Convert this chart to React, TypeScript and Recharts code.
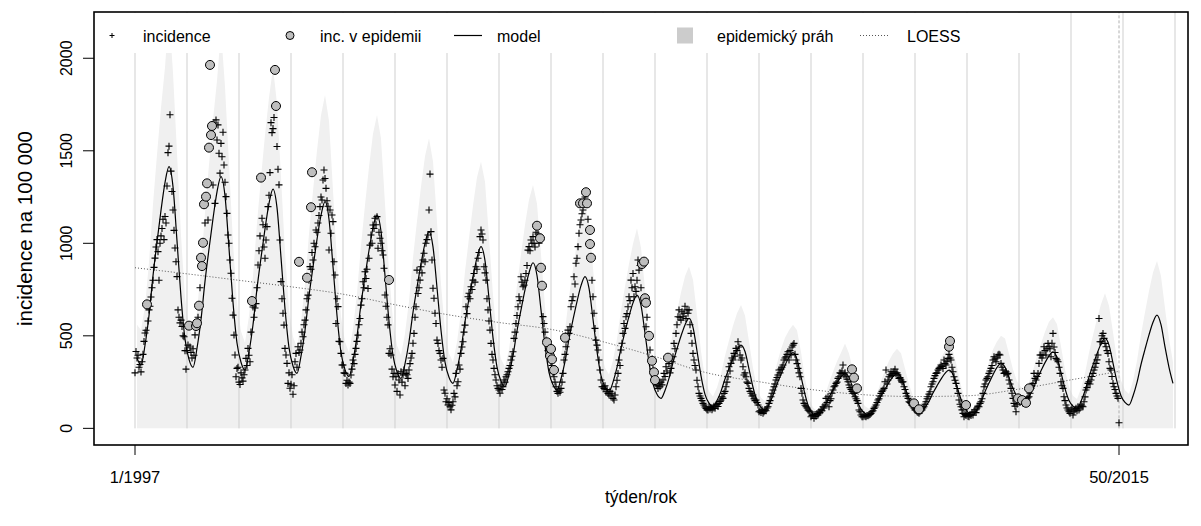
import { ComposedChart, Area, Line, Scatter, XAxis, YAxis, ReferenceLine } from 'recharts';

const FONT = '"Liberation Sans", Arial, Helvetica, sans-serif';

// osa x = pořadí týdne od 1/1997 (52 týdnů na rok)
const yearStarts = [0, 52, 104, 156, 208, 260, 312, 364, 416, 468, 520, 572, 624, 676, 728, 780, 832, 884, 936, 988, 1040];
const xTicks = [0, 984];
const xTickLabels = ['1/1997', '50/2015'];
const yTicks = [0, 500, 1000, 1500, 2000];
const currentWeek = 984;

// týdenní incidence, po sezónách
const inc1997 = [300, 415, 380, 395, 330, 345, 305, 360, 400, 470, 515, 530, 670, 580, 640, 660, 710, 760, 800, 870, 920, 980, 1020, 955, 800, 1000, 1040, 1080, 1130, 1020, 1145, 1110, 1310, 1490, 1525, 1695, 1390, 1280, 1180, 1070, 975, 900, 820, 640, 600, 570, 585, 550, 500, 495, 420, 320];
const inc1998 = [420, 450, 555, 440, 410, 380, 430, 395, 505, 553, 568, 600, 663, 760, 922, 877, 1003, 1211, 1110, 1252, 1324, 1126, 1517, 1964, 1585, 1634, 1315, 1650, 1216, 1667, 1558, 1640, 1487, 1379, 1540, 1468, 1600, 1423, 1330, 1252, 1162, 1045, 1000, 910, 838, 703, 612, 504, 396, 279, 324, 330];
const inc1999 = [250, 237, 300, 273, 255, 290, 315, 378, 340, 432, 395, 360, 520, 688, 656, 600, 650, 674, 760, 883, 960, 1040, 1355, 1135, 1100, 980, 919, 1018, 1090, 1198, 1260, 1382, 1652, 1598, 1620, 1680, 1937, 1742, 1523, 1400, 1316, 1018, 793, 700, 622, 558, 432, 396, 351, 243, 300, 217];
const inc2000 = [238, 290, 184, 230, 360, 405, 330, 441, 410, 423, 460, 520, 495, 560, 585, 640, 700, 720, 800, 874, 860, 950, 910, 1000, 981, 1072, 1060, 1110, 1150, 1198, 1250, 1234, 1342, 1396, 1350, 1297, 1230, 1200, 964, 1180, 1054, 1153, 1117, 900, 829, 567, 700, 658, 470, 468, 405, 342];
const inc2001 = [342, 300, 297, 243, 260, 234, 250, 243, 288, 320, 369, 350, 400, 432, 470, 504, 560, 594, 666, 700, 792, 760, 846, 810, 860, 756, 919, 990, 1045, 1000, 1099, 1080, 1135, 1100, 1144, 973, 1060, 1027, 1000, 960, 937, 865, 721, 660, 600, 559, 405, 430, 396, 320, 279, 297];
const inc2002 = [234, 279, 200, 297, 261, 180, 306, 250, 288, 315, 230, 297, 290, 270, 315, 350, 380, 405, 460, 513, 600, 657, 855, 729, 760, 801, 873, 840, 910, 946, 900, 1000, 1020, 1045, 1180, 1374, 1063, 910, 757, 703, 622, 567, 477, 459, 420, 405, 369, 330, 378, 207, 190, 144];
const inc2003 = [160, 126, 140, 117, 100, 125, 144, 189, 170, 297, 230, 252, 342, 320, 405, 440, 468, 520, 558, 657, 620, 711, 730, 700, 765, 750, 801, 837, 790, 873, 860, 919, 950, 1036, 1072, 1050, 1018, 873, 840, 801, 700, 640, 580, 531, 459, 400, 369, 324, 290, 261, 230, 216];
const inc2004 = [207, 190, 234, 210, 225, 261, 250, 279, 290, 306, 324, 340, 369, 390, 414, 486, 520, 567, 610, 657, 711, 690, 819, 790, 765, 774, 800, 837, 880, 963, 982, 960, 1018, 1000, 1036, 1000, 980, 1060, 1095, 1050, 1000, 1027, 868, 771, 604, 567, 520, 477, 465, 420, 400, 391];
const inc2005 = [360, 340, 300, 279, 250, 225, 200, 189, 207, 195, 216, 250, 297, 369, 400, 441, 480, 531, 513, 549, 657, 690, 711, 819, 780, 892, 919, 982, 1054, 1100, 1126, 1160, 1180, 1230, 1250, 1276, 1216, 1130, 1072, 996, 922, 800, 711, 622, 540, 477, 450, 423, 369, 315, 261, 225];
const inc2006 = [225, 216, 230, 198, 210, 189, 180, 200, 175, 190, 162, 153, 180, 225, 260, 297, 369, 340, 423, 460, 513, 567, 540, 603, 620, 657, 711, 690, 801, 760, 837, 711, 765, 740, 800, 910, 855, 880, 760, 888, 901, 703, 679, 549, 600, 495, 500, 423, 369, 365, 320, 303];
const inc2007 = [261, 243, 230, 216, 240, 225, 250, 235, 261, 297, 280, 333, 310, 382, 350, 300, 324, 360, 387, 459, 430, 513, 560, 603, 640, 600, 585, 630, 603, 622, 660, 594, 640, 622, 640, 560, 513, 460, 405, 369, 340, 315, 260, 225, 189, 175, 162, 150, 135, 126, 115, 108];
const inc2008 = [100, 99, 117, 105, 112, 100, 110, 120, 108, 126, 130, 118, 135, 145, 153, 170, 162, 189, 200, 225, 250, 279, 333, 310, 351, 380, 369, 405, 390, 432, 420, 468, 440, 396, 369, 380, 333, 288, 300, 279, 250, 243, 216, 200, 190, 175, 180, 160, 150, 153, 140, 126];
const inc2009 = [90, 95, 85, 100, 81, 90, 100, 95, 110, 117, 135, 150, 171, 190, 207, 225, 240, 261, 275, 288, 315, 300, 320, 330, 342, 369, 380, 387, 400, 414, 369, 420, 396, 440, 450, 459, 400, 369, 350, 324, 300, 279, 216, 190, 153, 135, 125, 117, 110, 99, 95, 90];
const inc2010 = [63, 70, 72, 54, 75, 65, 80, 72, 90, 85, 100, 95, 117, 110, 126, 162, 140, 171, 117, 150, 160, 190, 207, 225, 230, 243, 250, 270, 279, 300, 297, 310, 342, 288, 300, 279, 265, 252, 234, 220, 210, 200, 190, 189, 171, 160, 150, 135, 99, 90, 72, 63];
const inc2011 = [63, 72, 65, 63, 70, 68, 72, 75, 81, 90, 95, 108, 115, 126, 140, 153, 160, 175, 189, 200, 207, 216, 252, 315, 240, 261, 279, 290, 306, 285, 297, 306, 320, 295, 300, 288, 270, 275, 261, 250, 252, 225, 210, 189, 175, 162, 144, 140, 135, 125, 117, 110];
const inc2012 = [100, 99, 90, 85, 81, 90, 95, 100, 110, 117, 130, 144, 160, 171, 185, 198, 225, 240, 252, 270, 285, 297, 300, 315, 324, 330, 342, 335, 324, 369, 350, 342, 360, 378, 400, 380, 369, 330, 306, 279, 260, 243, 215, 189, 153, 130, 117, 100, 81, 63, 75, 70];
const inc2013 = [80, 65, 63, 75, 70, 85, 72, 90, 100, 85, 110, 120, 117, 135, 144, 160, 189, 225, 240, 261, 270, 279, 297, 310, 324, 340, 369, 387, 375, 360, 380, 396, 400, 396, 351, 330, 315, 297, 300, 306, 290, 297, 261, 240, 216, 190, 162, 135, 120, 90, 130, 153];
const inc2014 = [162, 140, 150, 145, 135, 150, 140, 153, 160, 165, 171, 190, 216, 230, 243, 297, 270, 261, 280, 297, 351, 396, 396, 380, 396, 441, 420, 396, 430, 459, 441, 430, 387, 460, 513, 440, 410, 378, 370, 360, 330, 297, 252, 230, 216, 171, 150, 126, 110, 99, 90, 81];
const inc2015 = [99, 110, 72, 90, 100, 108, 95, 117, 99, 110, 126, 120, 117, 144, 170, 207, 220, 243, 252, 240, 261, 280, 297, 315, 330, 351, 370, 396, 594, 468, 468, 500, 513, 486, 459, 441, 420, 405, 360, 324, 315, 280, 243, 225, 210, 189, 175, 162, 30];

const incidenceByYear = [inc1997, inc1998, inc1999, inc2000, inc2001, inc2002, inc2003, inc2004, inc2005, inc2006, inc2007, inc2008, inc2009, inc2010, inc2011, inc2012, inc2013, inc2014, inc2015];

// týdny v epidemii [týden, incidence]
const epidemic = [
  [12, 670], [54, 555], [61, 553], [62, 568], [64, 663], [66, 922], [67, 877], [68, 1003], [69, 1211], [71, 1252], [72, 1324], [74, 1517], [75, 1964], [76, 1585], [77, 1634],
  [117, 688], [126, 1355], [140, 1937], [141, 1742],
  [164, 900], [172, 814], [176, 1195], [177, 1384],
  [254, 802],
  [402, 1095], [405, 1027], [406, 868], [407, 771], [412, 465], [415, 391], [416, 429], [417, 373], [419, 315], [430, 490],
  [445, 1216], [448, 1216], [451, 1276], [452, 1216], [455, 1072], [455, 996], [456, 922],
  [507, 888], [509, 901], [510, 703], [511, 679], [514, 500], [517, 365], [519, 303], [520, 261], [533, 382],
  [717, 319], [719, 274], [722, 216],
  [779, 135], [784, 103],
  [814, 441], [815, 472], [831, 126],
  [883, 162], [887, 153], [891, 138], [894, 216],
];

// model a epidemický práh: hodnoty v týdnech sezóny
const seasonWeeks = [2, 6, 10, 14, 18, 22, 26, 30, 34, 38, 42, 46, 50];
const modelByYear = [
  [380, 342, 449, 610, 824, 1007, 1178, 1328, 1414, 1306, 1013, 709, 482],
  [373, 330, 433, 588, 794, 969, 1133, 1278, 1360, 1256, 973, 681, 461],
  [357, 315, 413, 560, 755, 921, 1078, 1215, 1293, 1193, 924, 646, 436],
  [337, 297, 390, 529, 715, 872, 1021, 1151, 1225, 1130, 875, 610, 411],
  [317, 279, 366, 498, 672, 821, 961, 1083, 1153, 1065, 826, 579, 394],
  [305, 270, 349, 468, 627, 762, 889, 1000, 1063, 981, 760, 530, 358],
  [276, 243, 317, 428, 576, 701, 819, 923, 982, 906, 702, 490, 331],
  [255, 225, 292, 393, 527, 640, 748, 841, 895, 826, 640, 448, 303],
  [235, 207, 268, 360, 483, 587, 685, 771, 820, 758, 590, 416, 285],
  [223, 198, 250, 329, 433, 522, 605, 678, 720, 664, 514, 357, 240],
  [184, 162, 205, 270, 356, 430, 499, 559, 594, 546, 418, 284, 184],
  [136, 117, 150, 200, 267, 323, 377, 423, 450, 415, 320, 222, 148],
  [113, 99, 130, 177, 239, 291, 341, 384, 409, 374, 281, 184, 111],
  [77, 63, 86, 122, 168, 208, 246, 278, 297, 275, 214, 151, 104],
  [81, 72, 95, 128, 173, 212, 248, 279, 297, 276, 220, 162, 119],
  [98, 90, 113, 146, 191, 230, 266, 297, 315, 291, 225, 157, 106],
  [82, 72, 100, 142, 198, 245, 290, 329, 351, 330, 274, 216, 173],
  [152, 144, 171, 212, 266, 311, 355, 392, 414, 383, 301, 215, 151],
  [120, 108, 146, 203, 278, 342, 403, 456, 486, 450, 353, 252, 176],
  [140, 126, 175, 248, 345, 427, 505, 573, 612, 560, 440, 330, 243],
];
const thresholdByYear = [
  [560, 531, 660, 897, 1211, 1480, 1732, 1952, 2250, 1920, 1489, 1042, 709],
  [548, 485, 637, 864, 1167, 1424, 1666, 1879, 2150, 1846, 1430, 1001, 678],
  [525, 463, 607, 823, 1110, 1354, 1585, 1786, 1950, 1754, 1358, 950, 641],
  [495, 437, 573, 778, 1051, 1282, 1501, 1692, 1801, 1661, 1286, 897, 604],
  [466, 410, 538, 732, 988, 1207, 1413, 1592, 1694, 1566, 1214, 851, 579],
  [448, 397, 513, 688, 922, 1120, 1307, 1470, 1568, 1442, 1117, 779, 526],
  [406, 357, 466, 629, 847, 1030, 1204, 1357, 1441, 1332, 1032, 720, 487],
  [375, 331, 429, 578, 775, 941, 1100, 1236, 1315, 1214, 941, 659, 445],
  [345, 304, 394, 529, 710, 863, 1007, 1133, 1200, 1114, 867, 612, 419],
  [328, 291, 368, 484, 637, 767, 889, 997, 1081, 976, 756, 525, 353],
  [270, 238, 301, 397, 523, 632, 734, 822, 874, 803, 614, 417, 270],
  [200, 172, 221, 294, 392, 475, 554, 622, 666, 610, 470, 326, 218],
  [166, 146, 191, 260, 351, 428, 490, 530, 560, 530, 413, 270, 163],
  [113, 93, 126, 179, 247, 306, 362, 409, 459, 404, 315, 222, 153],
  [119, 106, 140, 188, 254, 312, 365, 405, 430, 406, 323, 238, 175],
  [144, 132, 166, 215, 281, 338, 380, 420, 445, 420, 331, 231, 156],
  [121, 106, 147, 209, 291, 360, 426, 470, 500, 485, 403, 318, 254],
  [223, 212, 251, 312, 391, 457, 522, 576, 600, 563, 442, 316, 222],
  [176, 159, 215, 298, 409, 503, 592, 670, 730, 662, 519, 370, 259],
  [206, 185, 257, 365, 507, 628, 742, 842, 904, 823, 647, 485, 357],
];

// LOESS trend
const loessWeeks = [0, 52, 104, 156, 208, 260, 312, 364, 416, 468, 520, 572, 624, 676, 728, 780, 832, 884, 936, 984];
const loessValues = [868, 835, 800, 765, 725, 668, 615, 572, 535, 468, 388, 300, 252, 210, 182, 172, 176, 212, 262, 308];

const incidencePts = incidenceByYear.flatMap((arr, y) => arr.map((v, i) => ({ w: y * 52 + i, v })));
const epidemicPts = epidemic.map(([w, v]) => ({ w, v }));
const modelPts = modelByYear.flatMap((arr, y) => arr.map((v, i) => ({ w: y * 52 + seasonWeeks[i], v })));
const thresholdPts = thresholdByYear.flatMap((arr, y) => arr.map((v, i) => ({ w: y * 52 + seasonWeeks[i], v })));
const loessPts = loessWeeks.map((w, i) => ({ w, v: loessValues[i] }));

const Cross = (p: any) => (
  <path d={`M${p.cx - 3.5},${p.cy}h7M${p.cx},${p.cy - 3.5}v7`} stroke="#000" strokeWidth={1.1} fill="none" />
);
const Dot = (p: any) => <circle cx={p.cx} cy={p.cy} r={4.5} fill="#bebebe" stroke="#000" strokeWidth={1} />;

function XTick(props: any) {
  const { x, y, payload } = props;
  return (
    <text x={x} y={y} dy="0.71em" textAnchor="middle" fontSize={16.5} fill="#000" fontFamily="Arial">
      {xTickLabels[xTicks.indexOf(payload.value)]}
    </text>
  );
}

function YTick(props: any) {
  const { x, y, payload } = props;
  return (
    <text transform={`translate(${x - 9},${y}) rotate(-90)`} textAnchor="middle" fontSize={16} fill="#000" fontFamily="Arial">
      {payload.value}
    </text>
  );
}

export default function App() {
  return (
    <div style={{ position: 'absolute', left: 0, top: 0, width: 1201, height: 526, background: '#fff', fontFamily: FONT }}>
      <ComposedChart width={1201} height={526} margin={{ top: 12, right: 13, bottom: 0, left: 0 }}>
        <XAxis
          dataKey="w"
          type="number"
          domain={[-41, 1053]}
          ticks={xTicks}
          interval={0}
          allowDataOverflow
          axisLine={false}
          tickSize={10}
          tickMargin={16}
          height={81}
          tickLine={{ stroke: '#000' }}
          tick={<XTick />}
        />
        <YAxis
          dataKey="v"
          type="number"
          domain={[-90, 2250]}
          ticks={yTicks}
          interval={0}
          allowDataOverflow
          width={94}
          axisLine={false}
          tickSize={11}
          tickMargin={2}
          tickLine={{ stroke: '#000' }}
          tick={<YTick />}
        />
        <Area data={thresholdPts} dataKey="v" type="linear" fill="#f0f0f0" fillOpacity={1} stroke="none" baseValue={0} isAnimationActive={false} />
        {yearStarts.map((w) => (
          <ReferenceLine key={w} segment={[{ x: w, y: 0 }, { x: w, y: 2250 }]} stroke="#cfcfcf" strokeWidth={1} />
        ))}
        <ReferenceLine segment={[{ x: currentWeek, y: 0 }, { x: currentWeek, y: 2250 }]} stroke="#b0b0b0" strokeDasharray="3 2" strokeWidth={1} />
        <Line data={loessPts} dataKey="v" type="monotone" stroke="#555" strokeWidth={1} strokeDasharray="1 2" dot={false} isAnimationActive={false} />
        <Line data={modelPts} dataKey="v" type="monotone" stroke="#000" strokeWidth={1.2} dot={false} isAnimationActive={false} />
        <Scatter data={incidencePts} dataKey="v" shape={Cross} isAnimationActive={false} />
        <Scatter data={epidemicPts} dataKey="v" shape={Dot} isAnimationActive={false} />
      </ComposedChart>
      <svg width={1201} height={526} style={{ position: 'absolute', left: 0, top: 0, pointerEvents: 'none' }} fontFamily={FONT} fontSize={16}>
        <rect x={95} y={13} width={958} height={40} fill="#fff" />
        <path d="M109.5,35.5h5M112,33v5" stroke="#000" strokeWidth={1} />
        <text x={143} y={41.5} fill="#000">incidence</text>
        <circle cx={290} cy={35.5} r={4} fill="#bebebe" stroke="#000" strokeWidth={1} />
        <text x={320} y={41.5} fill="#000">inc. v epidemii</text>
        <line x1={454} x2={482} y1={35.5} y2={35.5} stroke="#000" strokeWidth={1.2} />
        <text x={497} y={41.5} fill="#000">model</text>
        <rect x={677} y={27.5} width={16} height={16} fill="#cccccc" />
        <text x={717} y={41.5} fill="#000">epidemický práh</text>
        <line x1={860} x2={890} y1={35.5} y2={35.5} stroke="#555" strokeWidth={1} strokeDasharray="1 2" />
        <text x={907} y={41.5} fill="#000">LOESS</text>
        <rect x={94} y={12} width={1094} height={433} fill="none" stroke="#000" strokeWidth={1.6} />
        <text transform="translate(32,228.5) rotate(-90)" textAnchor="middle" fontSize={20.5} fill="#000">incidence na 100 000</text>
        <text x={641} y={503} textAnchor="middle" fontSize={17.5} fill="#000">týden/rok</text>
      </svg>
    </div>
  );
}
